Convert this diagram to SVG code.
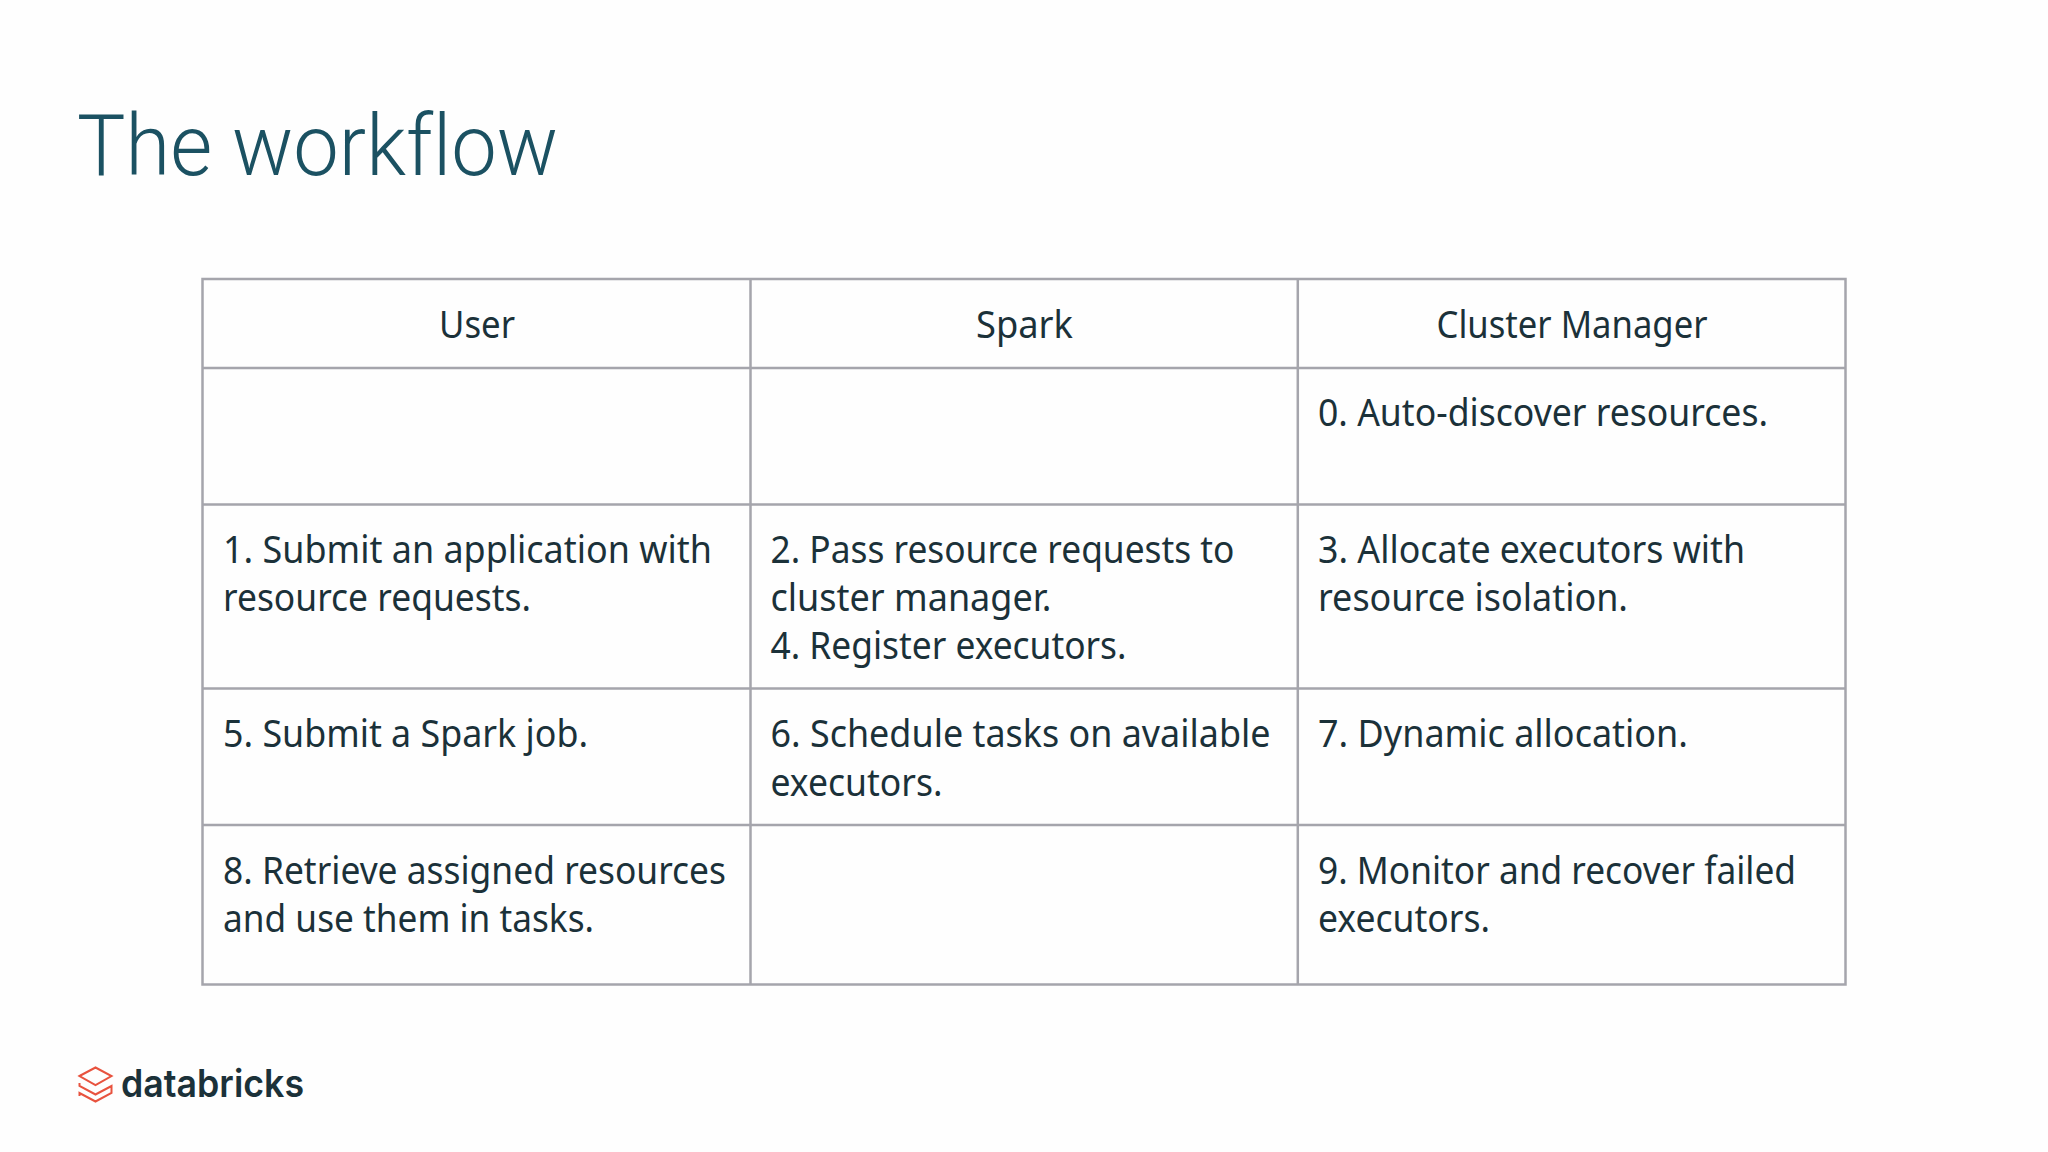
<svg xmlns="http://www.w3.org/2000/svg" width="2048" height="1152" viewBox="0 0 2048 1152">
<style>
.t{font-family:"Noto Sans","Open Sans",sans-serif;font-size:38px;fill:#1b3139}
.g{fill:none;stroke:#a5a5ac;stroke-width:2.5}
</style>
<rect width="2048" height="1152" fill="#fefefe"/>
<text id="title" x="77" y="175" font-family="Roboto,sans-serif" font-size="86" font-weight="350" fill="#1b5162" textLength="481" lengthAdjust="spacingAndGlyphs" style="font-variant-ligatures:none">The workflow</text>
<g id="table">
<rect class="g" x="202.500" y="279" width="1643" height="705.500"/>
<path class="g" d="M750.500 279V984.500M1297.800 279V984.500M202.500 368H1845.500M202.500 504.500H1845.500M202.500 688.500H1845.500M202.500 825H1845.500"/>
</g>
<g id="cells">
<text class="t" x="439" y="337.500" textLength="76" lengthAdjust="spacingAndGlyphs">User</text>
<text class="t" x="976" y="337.500" textLength="97" lengthAdjust="spacingAndGlyphs">Spark</text>
<text class="t" x="1436.500" y="337.500" textLength="271" lengthAdjust="spacingAndGlyphs">Cluster Manager</text>
<text class="t" x="1318" y="425.500" textLength="450" lengthAdjust="spacingAndGlyphs">0. Auto-discover resources.</text>
<text class="t" x="223" y="562.500" textLength="489" lengthAdjust="spacingAndGlyphs">1. Submit an application with</text>
<text class="t" x="223" y="610.500" textLength="308" lengthAdjust="spacingAndGlyphs">resource requests.</text>
<text class="t" x="770.500" y="562.500" textLength="464" lengthAdjust="spacingAndGlyphs">2. Pass resource requests to</text>
<text class="t" x="770.500" y="610.500" textLength="281" lengthAdjust="spacingAndGlyphs">cluster manager.</text>
<text class="t" x="770.500" y="659" textLength="356" lengthAdjust="spacingAndGlyphs">4. Register executors.</text>
<text class="t" x="1318" y="562.500" textLength="427" lengthAdjust="spacingAndGlyphs">3. Allocate executors with</text>
<text class="t" x="1318" y="610.500" textLength="310" lengthAdjust="spacingAndGlyphs">resource isolation.</text>
<text class="t" x="223" y="746.500" textLength="365" lengthAdjust="spacingAndGlyphs">5. Submit a Spark job.</text>
<text class="t" x="770.500" y="746.500" textLength="500" lengthAdjust="spacingAndGlyphs">6. Schedule tasks on available</text>
<text class="t" x="770.500" y="795.500" textLength="172" lengthAdjust="spacingAndGlyphs">executors.</text>
<text class="t" x="1318" y="746.500" textLength="370" lengthAdjust="spacingAndGlyphs">7. Dynamic allocation.</text>
<text class="t" x="223" y="883.500" textLength="503" lengthAdjust="spacingAndGlyphs">8. Retrieve assigned resources</text>
<text class="t" x="223" y="931.500" textLength="371" lengthAdjust="spacingAndGlyphs">and use them in tasks.</text>
<text class="t" x="1318" y="883.500" textLength="478" lengthAdjust="spacingAndGlyphs">9. Monitor and recover failed</text>
<text class="t" x="1318" y="931.500" textLength="172" lengthAdjust="spacingAndGlyphs">executors.</text>
</g>
<g id="logo">
<path d="M79.500 1076L95.500 1067.500L111.500 1076L95.500 1085ZM79.500 1083V1086L95.500 1094.500L111.500 1086V1093L95.500 1101.500L79.500 1093V1096M79.500 1089.500" fill="none" stroke="#e8533f" stroke-width="2"/>
<text x="121" y="1097" font-family="Inter,sans-serif" font-size="38" font-weight="600" fill="#1b3139" textLength="183" lengthAdjust="spacingAndGlyphs">databricks</text>
</g>
</svg>
